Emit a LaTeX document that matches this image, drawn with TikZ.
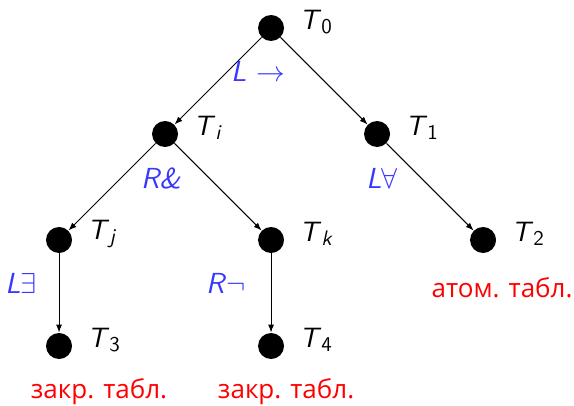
\documentclass[tikz,border=0pt]{standalone}
\usepackage{fontspec}
\usepackage{tikz}
\usetikzlibrary{arrows.meta}
\renewcommand{\familydefault}{\sfdefault}
\newfontfamily\rusfont{Open Sans}
\definecolor{rulecol}{RGB}{55,55,255}
\newcommand{\Tn}[1]{\textit{T}\raisebox{-0.3ex}{\fontsize{10.5}{12}\selectfont #1}}

\begin{document}
\begin{tikzpicture}[
  x=53pt, y=53pt,
  vert/.style={circle, fill=black, inner sep=0pt, minimum size=13pt},
  tname/.style={font=\fontsize{14}{16}\selectfont, label distance=4pt, yshift=3pt},
  rule/.style={text=rulecol, font=\fontsize{14.5}{17}\selectfont},
  verdict/.style={text=red, font=\rusfont\fontsize{13}{15}\selectfont},
  arr/.style={-{Latex[length=4pt,width=3pt]}, line width=0.5pt}
]
  \useasboundingbox (-2.557,0.264) rectangle (2.858,-3.557);

  % tableaux
  \node[vert, label={[tname]right:\Tn{0}}] (t0) at (0,0) {};
  \node[vert, label={[tname]right:\Tn{\textit{i}}}] (ti) at (-1,-1) {};
  \node[vert, label={[tname]right:\Tn{1}}] (t1) at (1,-1) {};
  \node[vert, label={[tname]right:\Tn{\textit{j}}}] (tj) at (-2,-2) {};
  \node[vert, label={[tname]right:\Tn{\textit{k}}}] (tk) at (0,-2) {};
  \node[vert, label={[tname]right:\Tn{2}}] (t2) at (2,-2) {};
  \node[vert, label={[tname]right:\Tn{3}}] (t3) at (-2,-3) {};
  \node[vert, label={[tname]right:\Tn{4}}] (t4) at (0,-3) {};

  % steps
  \draw[arr] (t0) -- (ti);
  \draw[arr] (t0) -- (t1);
  \draw[arr] (ti) -- (tj);
  \draw[arr] (ti) -- (tk);
  \draw[arr] (t1) -- (t2);
  \draw[arr] (tj) -- (t3);
  \draw[arr] (tk) -- (t4);

  % rules
  \node[rule] (rimp) at (-0.123,-0.406) {\textit{L} $\rightarrow$};
  \node[rule] (rand) at (-1.038,-1.415) {\textit{R\&}};
  \node[rule] (rall) at (1.047,-1.415) {\textit{L}$\forall$};
  \node[rule] (rex) at (-2.358,-2.406) {\textit{L}$\exists$};
  \node[rule] (rneg) at (-0.425,-2.406) {\textit{R}$\neg$};

  % results
  \node[verdict] (v2) at (2.179,-2.453) {атом. табл.};
  \node[verdict] (v3) at (-1.623,-3.434) {закр. табл.};
  \node[verdict] (v4) at (0.142,-3.434) {закр. табл.};
\end{tikzpicture}
\end{document}
